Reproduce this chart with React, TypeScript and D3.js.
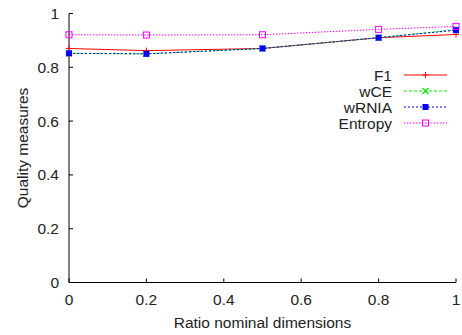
import React from 'react';
import * as d3 from 'd3';

const xValues = [0, 0.2, 0.5, 0.8, 1];
const f1 = [0.87, 0.862, 0.87, 0.91, 0.922];
const wce = [0.852, 0.85, 0.87, 0.91, 0.94];
const wrnia = [0.852, 0.85, 0.87, 0.91, 0.938];
const entropy = [0.921, 0.92, 0.921, 0.941, 0.952];
const xTicks = [0, 0.2, 0.4, 0.6, 0.8, 1];
const yTicks = [0, 0.2, 0.4, 0.6, 0.8, 1];

type Series = { name: string; values: number[]; color: string; dash: string; marker: string };

const series: Series[] = [
  { name: 'F1', values: f1, color: '#ff0000', dash: '', marker: 'plus' },
  { name: 'wCE', values: wce, color: '#00ee00', dash: '3,2', marker: 'cross' },
  { name: 'wRNIA', values: wrnia, color: '#0000ff', dash: '2,2', marker: 'square' },
  { name: 'Entropy', values: entropy, color: '#ff00ff', dash: '1.5,1.5', marker: 'box' },
];

const W = 462;
const H = 335;
const margin = { left: 69, right: 6, top: 13.5, bottom: 52.5 };
const FS = 15.5;

function Marker({ type, x, y, color }: { type: string; x: number; y: number; color: string }) {
  const s = 3;
  if (type === 'plus') {
    return (
      <g stroke={color} strokeWidth={1}>
        <line x1={x - s} x2={x + s} y1={y} y2={y} />
        <line x1={x} x2={x} y1={y - s} y2={y + s} />
      </g>
    );
  }
  if (type === 'cross') {
    return (
      <g stroke={color} strokeWidth={1.2}>
        <line x1={x - s} x2={x + s} y1={y - s} y2={y + s} />
        <line x1={x - s} x2={x + s} y1={y + s} y2={y - s} />
      </g>
    );
  }
  if (type === 'square') {
    return <rect x={x - s} y={y - s} width={2 * s} height={2 * s} fill={color} />;
  }
  return <rect x={x - s} y={y - s} width={2 * s} height={2 * s} fill="none" stroke={color} strokeWidth={1} />;
}

export default function App() {
  const x = d3.scaleLinear().domain([0, 1]).range([margin.left, W - margin.right]);
  const y = d3.scaleLinear().domain([0, 1]).range([H - margin.bottom, margin.top]);
  const line = d3
    .line<number>()
    .x((_, i) => x(xValues[i]))
    .y((d) => y(d));

  const font = 'Liberation Sans, Arial, Helvetica, sans-serif';
  const legendX = 392;
  const legendY0 = 75;
  const legendDy = 16;

  return (
    <svg width={W} height={H} style={{ position: 'absolute', left: 0, top: 0, background: '#fff' }} fontFamily={font}>
      {/* axes */}
      <line x1={x(0)} x2={x(1)} y1={y(0)} y2={y(0)} stroke="#000" strokeWidth={1} />
      <line x1={x(0)} x2={x(0)} y1={y(0)} y2={y(1)} stroke="#000" strokeWidth={1} />
      {xTicks.map((t) => (
        <g key={'x' + t}>
          <line x1={x(t)} x2={x(t)} y1={y(0)} y2={y(0) - 4} stroke="#000" />
          <text x={x(t)} y={y(0) + 22} textAnchor="middle" fontSize={FS} fill="#222">
            {t}
          </text>
        </g>
      ))}
      {yTicks.map((t) => (
        <g key={'y' + t}>
          <line x1={x(0)} x2={x(0) + 4} y1={y(t)} y2={y(t)} stroke="#000" />
          <text x={x(0) - 10} y={y(t) + 5.5} textAnchor="end" fontSize={FS} fill="#222">
            {t}
          </text>
        </g>
      ))}
      <text x={x(0.5)} y={H - 7} textAnchor="middle" fontSize={FS} fill="#222">
        Ratio nominal dimensions
      </text>
      <text
        transform={`translate(${28},${(y(0) + y(1)) / 2}) rotate(-90)`}
        textAnchor="middle"
        fontSize={FS}
        fill="#222"
      >
        Quality measures
      </text>

      {/* series */}
      {series.map((s) => (
        <g key={s.name}>
          <path d={line(s.values) || ''} fill="none" stroke={s.color} strokeWidth={1} strokeDasharray={s.dash} />
          {s.values.map((v, i) => (
            <Marker key={i} type={s.marker} x={x(xValues[i])} y={y(v)} color={s.color} />
          ))}
        </g>
      ))}

      {/* legend */}
      {series.map((s, i) => {
        const ly = legendY0 + i * legendDy;
        return (
          <g key={'l' + s.name}>
            <text x={legendX} y={ly + 5.5} textAnchor="end" fontSize={FS} fill="#222">
              {s.name}
            </text>
            <line x1={404} x2={447} y1={ly} y2={ly} stroke={s.color} strokeWidth={1} strokeDasharray={s.dash} />
            <Marker type={s.marker} x={425.5} y={ly} color={s.color} />
          </g>
        );
      })}
    </svg>
  );
}
